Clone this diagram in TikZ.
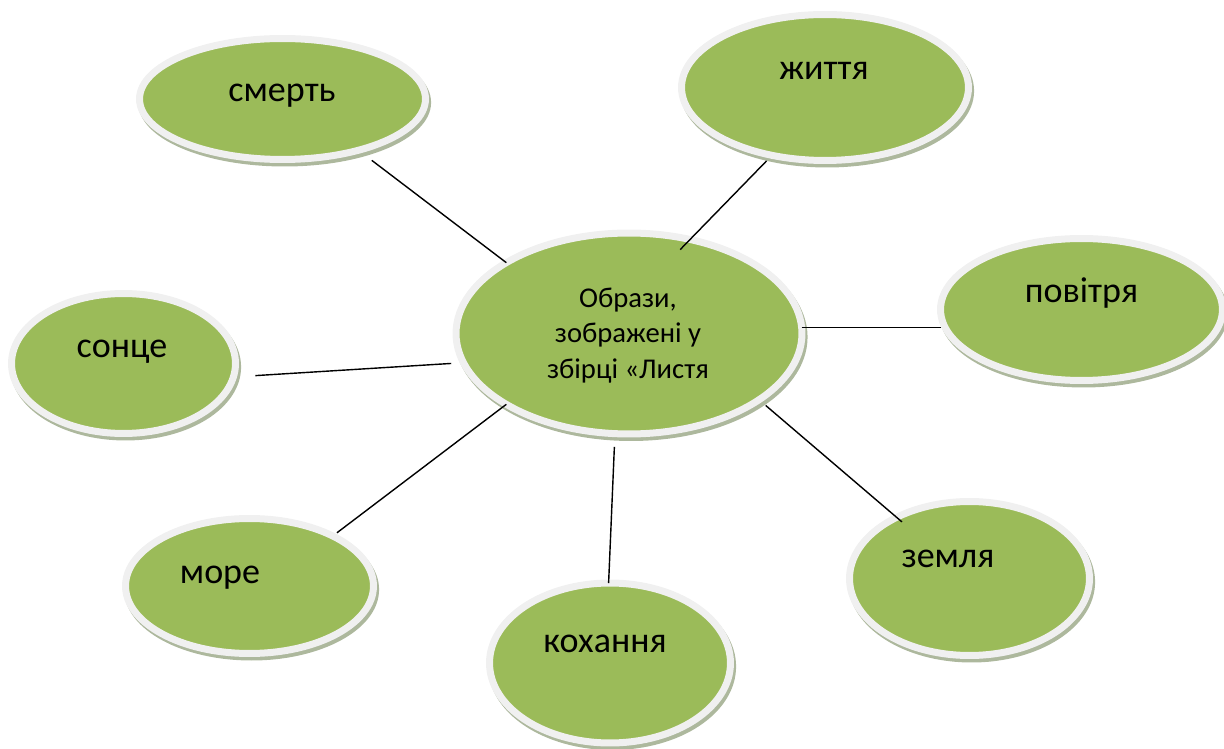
\documentclass[tikz,border=0pt]{standalone}
\usepackage{fontspec}
\setmainfont{Carlito}
\usetikzlibrary{shapes.geometric,shadows}
\definecolor{leafgreen}{HTML}{9BBB59}
\definecolor{rimgray}{HTML}{F0F0F0}
\definecolor{shadegreen}{HTML}{ADB89D}

\begin{document}
\begin{tikzpicture}[x=0.02cm, y=-0.02cm,
    bubble/.style={ellipse, fill=leafgreen, draw=rimgray, line width=0.14cm, inner sep=0pt, outer sep=0pt,
        drop shadow={shadow xshift=1.2pt, shadow yshift=-2pt, fill=shadegreen, draw=shadegreen, line width=0.14cm, opacity=1}},
    word/.style={inner sep=0pt, anchor=base, font=\fontsize{20.5}{24}\selectfont},
    link/.style={line width=0.8pt}]
    \useasboundingbox (0,0) rectangle (1224,749);

    % Central idea
    \node[bubble, minimum width=6.92cm, minimum height=4.02cm] (c) at (629,333.5) {};
    \node[inner sep=0pt, align=center, font=\fontsize{16.3}{20}\selectfont] (c-t) at (628,335.5) {Образи,\\зображені у\\збірці «Листя};

    % Images around it
    \node[bubble, minimum width=5.72cm, minimum height=2.42cm] (smert) at (282.5,99) {};
    \node[word] (smert-t) at (282,102) {смерть};

    \node[bubble, minimum width=5.74cm, minimum height=2.92cm] (zhyt) at (825,87.5) {};
    \node[word] (zhyt-t) at (824,80) {життя};

    \node[bubble, minimum width=5.64cm, minimum height=2.84cm] (pov) at (1081.5,309.5) {};
    \node[word] (pov-t) at (1081.5,303) {повітря};

    \node[bubble, minimum width=4.48cm, minimum height=2.80cm] (sontse) at (123.5,363.5) {};
    \node[word] (sontse-t) at (122,358) {сонце};

    \node[bubble, minimum width=4.96cm, minimum height=2.70cm] (more) at (249.5,586) {};
    \node[word] (more-t) at (220,583) {море};

    \node[bubble, minimum width=4.82cm, minimum height=3.20cm] (kokh) at (610,663) {};
    \node[word] (kokh-t) at (605,652) {кохання};

    \node[bubble, minimum width=4.80cm, minimum height=3.08cm] (zemlia) at (969.5,578.5) {};
    \node[word] (zemlia-t) at (948,568) {земля};

    % Links
    \draw[link, shorten >=9.5pt] (c.150) -- (smert.-34);
    \draw[link, shorten <=-8pt, shorten >=4.5pt] (c.57.5) -- (zhyt.232);
    \draw[link] (c.2) -- (c.2 -| pov.west);
    \draw[link, shorten <=7pt, shorten >=12.5pt] (c.190.8) -- (sontse.-7.2);
    \draw[link, shorten >=3pt] (c.210.4) -- (more.31.2);
    \draw[link, shorten <=7.5pt] (c.262) -- (kokh.91.5);
    \draw[link, shorten <=5pt, shorten >=-4pt] (c.-27.4) -- (zemlia.140.6);
\end{tikzpicture}
\end{document}
